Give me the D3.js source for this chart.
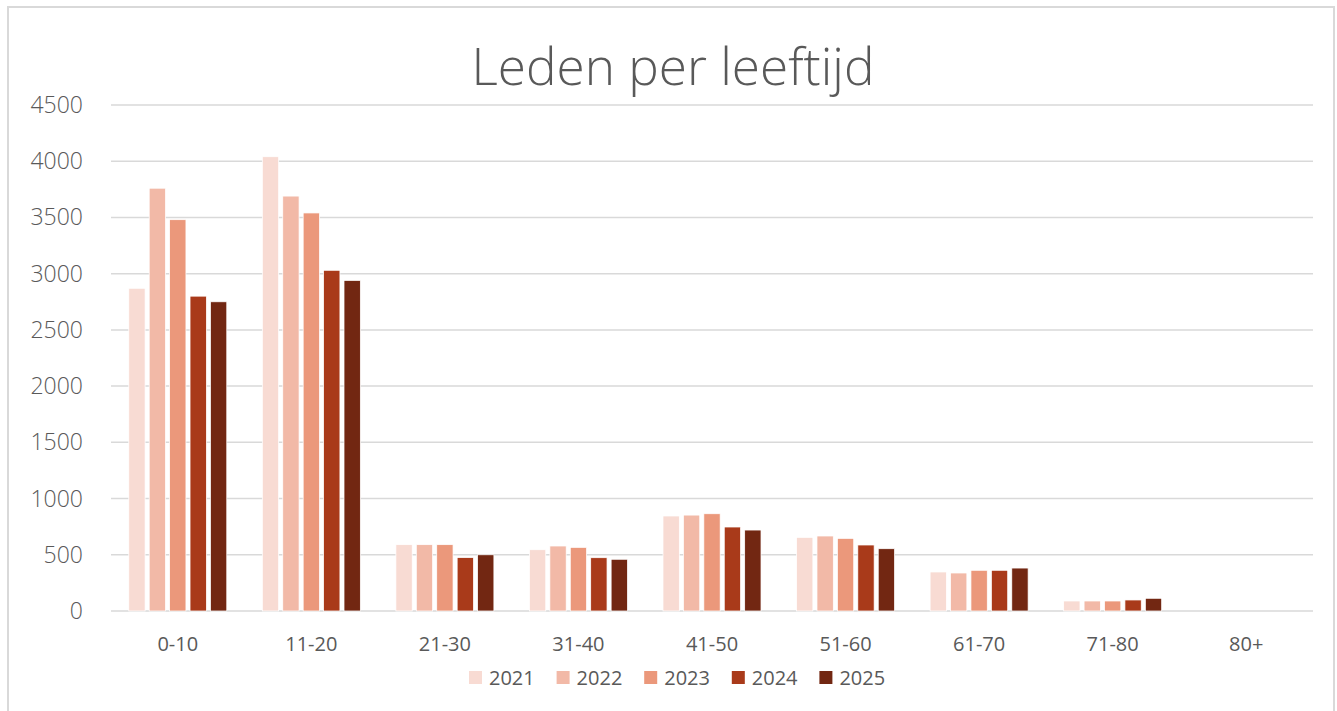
<!DOCTYPE html>
<meta charset="utf-8">
<style>
  body { margin: 0; background: #fff; }
  text { fill: #595959; }
</style>
<body>
    <div id="chart"></div>
</body>
<script src="https://cdn.jsdelivr.net/npm/d3@7"></script>
<script>
    var svg_width = 1337,
        svg_height = 711;

    // data
    const categories = ["0-10", "11-20", "21-30", "31-40", "41-50", "51-60", "61-70", "71-80", "80+"];
    const years = ["2021", "2022", "2023", "2024", "2025"];
    const v2021 = [2870, 4040, 590, 545, 845, 655, 347, 89, 0];
    const v2022 = [3760, 3690, 590, 578, 853, 667, 338, 89, 0];
    const v2023 = [3480, 3540, 590, 566, 865, 646, 362, 89, 0];
    const v2024 = [2800, 3030, 475, 474, 747, 587, 362, 98, 0];
    const v2025 = [2750, 2940, 500, 460, 720, 554, 382, 113, 0];
    const yTicks = [0, 500, 1000, 1500, 2000, 2500, 3000, 3500, 4000, 4500];
    const colors = ["#f8dbd3", "#f2b9a7", "#eb987b", "#a93a1a", "#722712"];

    var series = [v2021, v2022, v2023, v2024, v2025];

    var svg = d3.select("#chart").append("svg")
        .attr("width", svg_width)
        .attr("height", svg_height);

    // chart border
    svg.append("rect")
        .attr("x", 8).attr("y", 7)
        .attr("width", 1326).attr("height", 720)
        .style("fill", "#fff")
        .style("stroke", "#d9d9d9")
        .style("stroke-width", 2);

    var x0 = d3.scaleBand().domain(categories).range([111, 1313]).padding(0);
    var x1 = d3.scaleBand().domain(years).range([0, x0.bandwidth()])
        .paddingInner(0.2).paddingOuter(0.87);
    var y = d3.scaleLinear().domain([0, 4500]).range([611, 105]);

    // gridlines
    svg.append("g")
        .selectAll("line")
        .data(yTicks)
        .enter()
            .append("line")
            .attr("x1", 111).attr("x2", 1313)
            .attr("y1", function(d) { return y(d); })
            .attr("y2", function(d) { return y(d); })
            .style("stroke", "#d9d9d9")
            .style("stroke-width", 1.5);

    // y tick labels
    svg.append("g")
        .selectAll("text")
        .data(yTicks)
        .enter()
            .append("text")
            .attr("x", 83)
            .attr("y", function(d) { return y(d); })
            .attr("dy", "0.35em")
            .attr("text-anchor", "end")
            .style("font-family", "'Open Sans', sans-serif")
            .style("font-weight", 300)
            .style("font-size", "23px")
            .text(function(d) { return d; });

    // bars
    var rows = [];
    categories.forEach(function(c, i) {
        years.forEach(function(yr, j) {
            rows.push({cat: c, year: yr, value: series[j][i], j: j});
        });
    });

    svg.append("g")
        .selectAll("rect")
        .data(rows.filter(function(d) { return d.value > 0; }))
        .enter()
            .append("rect")
            .attr("x", function(d) { return x0(d.cat) + x1(d.year); })
            .attr("y", function(d) { return y(d.value); })
            .attr("width", x1.bandwidth())
            .attr("height", function(d) { return y(0) - y(d.value); })
            .style("fill", function(d) { return colors[d.j]; })
            .style("stroke", "#fff")
            .style("stroke-width", 0.75);

    // category labels
    svg.append("g")
        .selectAll("text")
        .data(categories)
        .enter()
            .append("text")
            .attr("x", function(d) { return x0(d) + x0.bandwidth() / 2; })
            .attr("y", 651)
            .attr("text-anchor", "middle")
            .style("font-family", "'Open Sans', sans-serif")
            .style("font-size", "20px")
            .text(function(d) { return d; });

    // title, sized to the reference width
    var title = svg.append("text")
        .attr("x", 673)
        .attr("y", 85)
        .attr("text-anchor", "middle")
        .style("font-family", "'Open Sans', sans-serif")
        .style("font-weight", 300)
        .style("font-size", "48px")
        .text("Leden per leeftijd");
    var tw = title.node().getComputedTextLength();
    title.style("font-size", (48 * 403 / tw) + "px");

    // legend
    var legend = svg.append("g")
        .selectAll("g")
        .data(years)
        .enter()
            .append("g")
            .attr("transform", function(d, i) { return "translate(" + (469 + i * 87.6) + ",671)"; });

    legend.append("rect")
        .attr("width", 13).attr("height", 13)
        .style("fill", function(d, i) { return colors[i]; });

    legend.append("text")
        .attr("x", 20)
        .attr("y", 14)
        .style("font-family", "'Open Sans', sans-serif")
        .style("font-size", "20px")
        .text(function(d) { return d; });
</script>
